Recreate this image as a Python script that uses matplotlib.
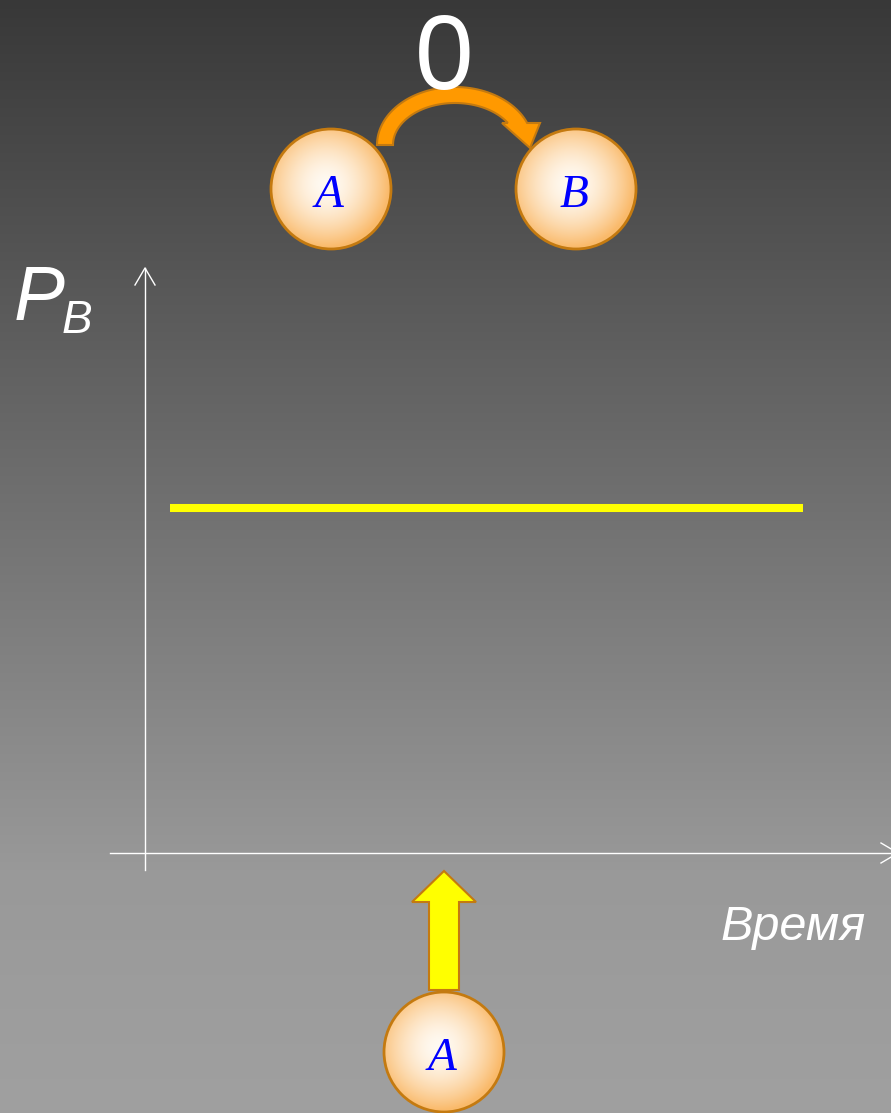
import numpy as np
import matplotlib
matplotlib.use("Agg")
import matplotlib.pyplot as plt
from matplotlib.patches import Circle, Polygon

# ── data ─────────────────────────────────────────────────────────────────────
time = [0.34, 8.82]      # start / end of the observed interval
p_b = [0.59, 0.59]       # probability of state B stays constant
rate_label = "0"         # transition rate A -> B

W, H = 891, 1113
EDGE = "#c47a10"
SANS = "Liberation Sans"
SERIF = "Liberation Serif"

fig = plt.figure(figsize=(W / 100, H / 100), dpi=100)

# ── background layer, pixel coords (y down) ─────────────────────────────────
bg = fig.add_axes([0, 0, 1, 1])
bg.axis("off")

yy = np.arange(H)
shade = np.interp(yy, [0, 870, H], [56, 153, 160]) / 255
grad = np.repeat(shade[:, None, None], 3, axis=2)
bg.imshow(grad, extent=(0, W, H, 0), aspect="auto", zorder=0)


def ball(cx, cy, letter, r=60):
    """Orange shaded circle with an italic blue letter."""
    n = 240
    gy, gx = np.mgrid[-1:1:n * 1j, -1:1:n * 1j]
    d = np.clip(np.hypot(gx + 0.08, gy + 0.08) / 1.05, 0, 1)
    c0 = np.array([1.0, 0.98, 0.95])
    c1 = np.array([0.98, 0.73, 0.42])
    img = c0 + (c1 - c0) * d[..., None] ** 1.7
    im = bg.imshow(img, extent=(cx - r, cx + r, cy + r, cy - r),
                   aspect="auto", zorder=3, interpolation="bilinear")
    circ = Circle((cx, cy), r, facecolor="none", edgecolor=EDGE,
                  lw=2.0, zorder=4)
    bg.add_patch(circ)
    im.set_clip_path(circ)
    bg.text(cx - 2, cy + 18, letter, fontsize=34, style="italic",
            family=SERIF, color="#0000ff", ha="center", va="baseline",
            zorder=5)


ball(331, 189, "A")
ball(576, 189, "B")
ball(444, 1052, "A")

# ── curved orange arrow A -> B ──────────────────────────────────────────────
cx, cy = 455, 145
t_out = np.radians(np.linspace(180, 22.3, 60))
t_in = np.radians(np.linspace(31.6, 180, 60))
outer = np.c_[cx + 78 * np.cos(t_out), cy - 58 * np.sin(t_out)]
inner = np.c_[cx + 62 * np.cos(t_in), cy - 42 * np.sin(t_in)]
head = np.array([[540, 123], [530, 148], [502, 123]])
pts = np.vstack([outer, head, inner])
bg.add_patch(Polygon(pts, closed=True, facecolor="#ff9900",
                     edgecolor=EDGE, lw=1.5, zorder=2))

bg.text(444, 89, rate_label, fontsize=76, family=SANS, color="white",
        ha="center", va="baseline", zorder=5)

# ── yellow block arrow (bottom) ─────────────────────────────────────────────
up = [(429, 990), (459, 990), (459, 902), (476, 902), (444, 871),
      (412, 902), (429, 902)]
bg.add_patch(Polygon(up, closed=True, facecolor="#ffff00",
                     edgecolor=EDGE, lw=1.5, zorder=2))

# ── axes arrows ─────────────────────────────────────────────────────────────
bg.plot([145, 145], [870, 268], color="white", lw=1.0, zorder=1)
bg.plot([135, 145, 155], [285, 268, 285], color="white", lw=1.0, zorder=1)
bg.plot([110, 898], [853, 853], color="white", lw=1.0, zorder=1)
bg.plot([881, 898, 881], [843, 853, 863], color="white", lw=1.0, zorder=1)

bg.text(14, 320, "P", fontsize=55, style="italic", family=SANS,
        color="white", ha="left", va="baseline")
bg.text(62, 333, "B", fontsize=33, style="italic", family=SANS,
        color="white", ha="left", va="baseline")
bg.text(720, 940, "Время", fontsize=35, style="italic", family=SANS,
        color="white", ha="left", va="baseline")

bg.set_xlim(0, W)
bg.set_ylim(H, 0)

# ── data axes ───────────────────────────────────────────────────────────────
ax = fig.add_axes([145 / W, (H - 853) / H, (W - 145) / W, (853 - 268) / H])
ax.set_xlim(0, 10)
ax.set_ylim(0, 1)
ax.axis("off")
ax.patch.set_alpha(0)
ax.plot(time, p_b, color="#ffff00", lw=5.8, solid_capstyle="butt")

fig.savefig("out.png", dpi=100, facecolor="#333333")
